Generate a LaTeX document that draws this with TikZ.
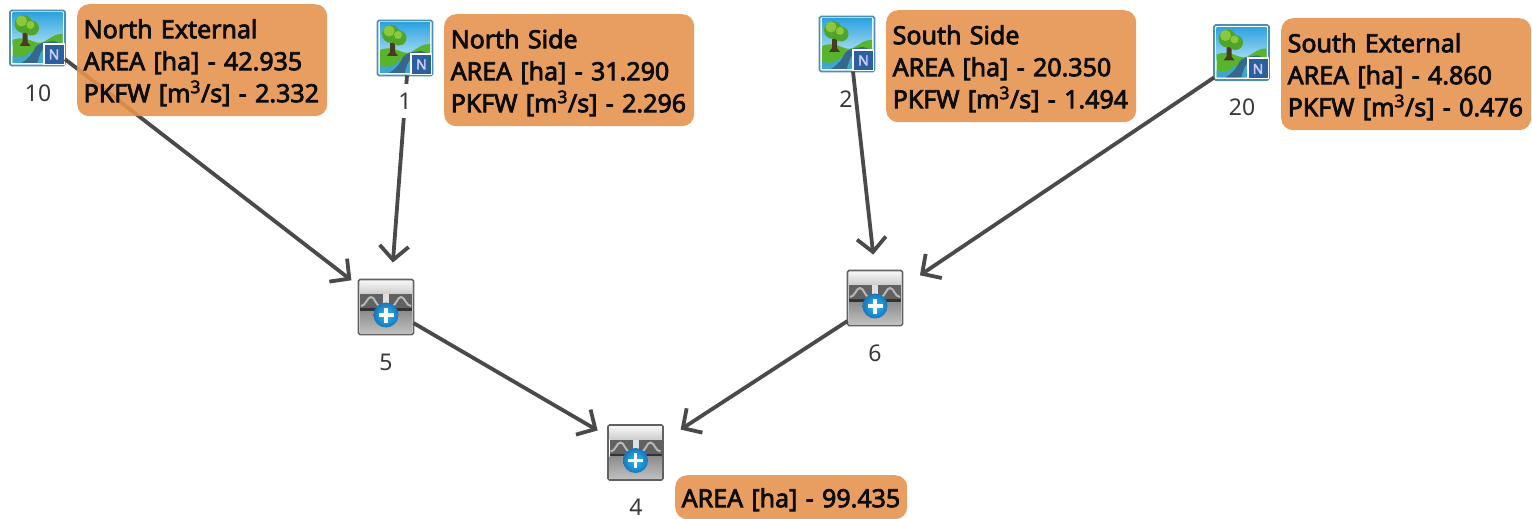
\documentclass[tikz,border=0pt]{standalone}
\usepackage{fontspec}
\setmainfont{Noto Sans}
\usetikzlibrary{arrows.meta,calc}
\definecolor{boxfill}{HTML}{E6934F}
\definecolor{linecol}{HTML}{4A4A4A}
\definecolor{frameblue}{HTML}{4A8FB5}
\definecolor{skytop}{HTML}{2FA3E0}
\definecolor{skylow}{HTML}{A8DDF2}
\definecolor{grass}{HTML}{58B42C}
\definecolor{water}{HTML}{3FA6CF}
\definecolor{river}{HTML}{35688F}
\definecolor{trunk}{HTML}{4A3A1E}
\definecolor{leaf}{HTML}{4FA52A}
\definecolor{leaflight}{HTML}{8CC83C}
\definecolor{badge}{HTML}{2C5F9E}
\definecolor{plusblue}{HTML}{1C8BD8}
\newfontfamily\boldish[FakeBold=3]{Noto Sans}
\newcommand{\strutup}[1]{\rule{0pt}{#1pt}}
\newcommand{\strutdown}[1]{\rule[-#1pt]{0pt}{#1pt}}
\tikzset{
  landnode/.style={rectangle,minimum width=55pt,minimum height=55pt,inner sep=0pt,outer sep=0pt,draw=frameblue,line width=1.6pt,rounded corners=1.5pt,fill=white},
  mergenode/.style={rectangle,minimum width=55pt,minimum height=55pt,inner sep=0pt,outer sep=0pt,draw=black!62,line width=1.6pt,rounded corners=1.5pt,fill=white},
  infobox/.style={rectangle,anchor=north west,rounded corners=12pt,fill=boxfill,fill opacity=.9,text opacity=1,draw=none,
    inner xsep=6.5pt,inner ysep=0pt,text width=237pt,align=left,font=\boldish\fontsize{25}{32}\selectfont,text=black!95},
  idlabel/.style={inner sep=1pt,font=\fontsize{23}{26}\selectfont,text=black!78},
  flow/.style={draw=linecol,line width=3.8pt,-{Straight Barb[length=14pt,width=29pt,line width=3.8pt]}}
}
\newcommand{\landart}[1]{%
  \begin{scope}[shift={(#1.center)}]
    \begin{scope}
      \clip (-25,-25) rectangle (25,25);
      \shade[top color=skytop,bottom color=skylow] (-25,-25) rectangle (25,8);
      \fill[grass] (-25,25) -- (-25,2) .. controls (-10,-4) and (-3,8) .. (6,4) .. controls (12,1) and (18,-5) .. (25,-4) -- (25,25) -- cycle;
      \fill[water] (-25,25) -- (-25,18) .. controls (-14,20) and (-9,18) .. (-6,12) -- (-3,25) -- cycle;
      \fill[river] (-16,25) .. controls (-8,20) and (-4,14) .. (-2,9) .. controls (0,6) and (6,4) .. (16,3) -- (25,6) .. controls (10,7) and (5,10) .. (3,15) .. controls (2,19) and (1,22) .. (0,25) -- cycle;
      \fill[water] (0,25) .. controls (1,20) and (3,14) .. (6,11) .. controls (10,8) and (18,7) .. (25,7) -- (25,25) -- cycle;
      \fill[trunk] (-15,-7) -- (-10,-7) -- (-10,4) -- (-7,8) -- (-18,8) -- (-15,4) -- cycle;
      \fill[leaf] (-14,-14) circle (9);
      \fill[leaf] (-6,-10) circle (7.5);
      \fill[leaflight] (-16,-17) circle (5.5);
      \fill[leaflight] (-7,-13) circle (4);
    \end{scope}
    \fill[white] (5,5) rectangle (27,27);
    \fill[badge] (7,7) rectangle (26,26);
    \node[inner sep=0pt,text=white!80!blue,font=\boldish\fontsize{14}{14}\selectfont] at (16.5,16.5) {N};
  \end{scope}}
\newcommand{\mergeart}[1]{%
  \begin{scope}[shift={(#1.center)}]
    \shade[top color=white!96!black,bottom color=black!20] (-26,-26) rectangle (26,-13);
    \fill[black!62] (-26,-13) rectangle (26,3);
    \fill[black!12] (-3,-13) rectangle (3,-4);
    \draw[black!28,line width=2pt] (-25,-1) .. controls (-20,-1) and (-19,-10) .. (-15,-10) .. controls (-11,-10) and (-11,-2) .. (-5,0);
    \draw[black!28,line width=2pt] (25,-1) .. controls (20,-1) and (19,-10) .. (15,-10) .. controls (11,-10) and (11,-2) .. (5,0);
    \fill[black!80] (-26,1) rectangle (26,4);
    \shade[top color=black!45,bottom color=black!25] (-26,4) rectangle (26,26);
    \shade[inner color=cyan!70!blue!85,outer color=plusblue!85!black] (0,8) circle (12.5);
    \fill[white] (-7.5,6.3) rectangle (7.5,9.7);
    \fill[white] (-1.7,.5) rectangle (1.7,15.5);
  \end{scope}}
\begin{document}
\begin{tikzpicture}[x=1pt,y=-1pt]
\useasboundingbox (0,0) rectangle (1532,519);
% icons
\node[landnode] (n10) at (37.5,38) {};
\node[landnode] (n1) at (405,48) {};
\node[landnode] (n2) at (847,44) {};
\node[landnode] (n20) at (1241.5,52.5) {};
\node[mergenode] (n5) at (386,307) {};
\node[mergenode] (n6) at (875,298) {};
\node[mergenode] (n4) at (635.5,452.5) {};
\landart{n10}\landart{n1}\landart{n2}\landart{n20}
\mergeart{n5}\mergeart{n6}\mergeart{n4}
% connectors
\draw[flow,shorten >=9pt] (n10) -- (n5);
\draw[flow,shorten >=17pt] ([xshift=2pt]n1.south) -- ([xshift=5.6pt]n5.north);
\draw[flow,shorten >=16pt] ([xshift=6pt]n2.south) -- (n6.north);
\draw[flow,shorten >=21pt] ([yshift=-25pt]n20.west) -- ([yshift=11pt]n6.east);
\draw[flow,shorten >=12pt] (n5) -- (n4);
\draw[flow,shorten >=21pt] ([yshift=-23pt]n6.west) -- ([yshift=11.5pt]n4.east);
% id labels
\node[idlabel] (l10) at (38,93) {10};
\node[idlabel,fill=white,minimum height=34pt,inner sep=0pt] (l1) at (405,101) {1};
\node[idlabel] (l2) at (846,99) {2};
\node[idlabel] (l20) at (1242,107) {20};
\node[idlabel] (l5) at (386,362) {5};
\node[idlabel] (l6) at (875,353) {6};
\node[idlabel] (l4) at (636,507) {4};
% info boxes
\node[infobox] (b10) at (77,4) {\strutup{34}North External\\AREA [ha] - 42.935\\PKFW [m\textsuperscript{3}/s] - 2.332\strutdown{14}};
\node[infobox] (b1) at (444,14) {\strutup{34}North Side\\AREA [ha] - 31.290\\PKFW [m\textsuperscript{3}/s] - 2.296\strutdown{14}};
\node[infobox] (b2) at (886,10) {\strutup{34}South Side\\AREA [ha] - 20.350\\PKFW [m\textsuperscript{3}/s] - 1.494\strutdown{14}};
\node[infobox] (b20) at (1281,18) {\strutup{34}South External\\AREA [ha] - 4.860\\PKFW [m\textsuperscript{3}/s] - 0.476\strutdown{14}};
\node[infobox,text width=219pt] (b4) at (675,475) {\strutup{32}AREA [ha] - 99.435\strutdown{12}};
\end{tikzpicture}
\end{document}
